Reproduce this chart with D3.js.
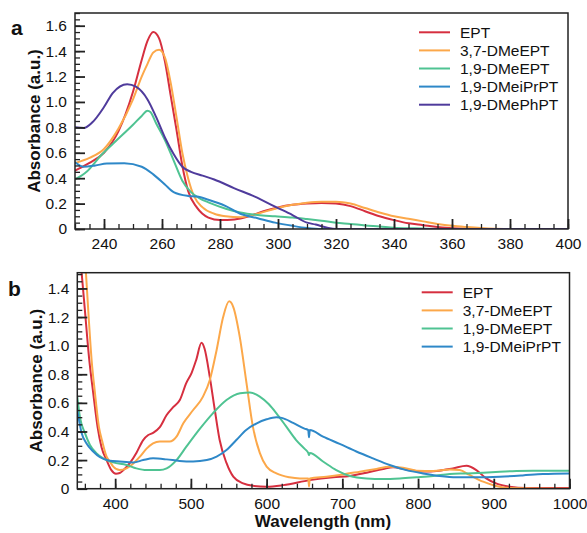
<!DOCTYPE html>
<html>
<head>
<meta charset="utf-8">
<script src="https://cdn.jsdelivr.net/npm/d3@7"></script>
<style>
	body { margin: 0; background: #fff; }
	svg text { font-family: "Liberation Sans", Arial, sans-serif; fill: #111; }
</style>
</head>
<body>
<div id="chart"></div>
<script>
// Panel a: computed spectra, [wavelength nm, absorbance]
const aEPT = [[230,0.46],[235,0.52],[240,0.60],[245,0.77],[250,1.08],[253,1.33],[255,1.48],[257,1.55],[259,1.50],[261,1.32],[263,1.05],[265,0.78],[267,0.50],[269,0.30],[272,0.17],[276,0.09],[280,0.07],[285,0.075],[290,0.10],[295,0.14],[300,0.17],[305,0.19],[310,0.20],[315,0.205],[320,0.20],[325,0.18],[330,0.14],[335,0.10],[340,0.07],[345,0.045],[350,0.03],[355,0.015],[360,0.005],[370,0],[400,0]];
const a37DMeEPT = [[230,0.52],[235,0.56],[240,0.63],[245,0.79],[250,1.02],[253,1.20],[255,1.30],[257,1.39],[259,1.41],[261,1.35],[263,1.15],[265,0.88],[267,0.60],[269,0.40],[271,0.26],[274,0.17],[278,0.12],[282,0.10],[287,0.092],[293,0.12],[299,0.16],[305,0.19],[310,0.207],[315,0.215],[320,0.215],[325,0.20],[330,0.165],[335,0.13],[340,0.10],[345,0.08],[350,0.06],[355,0.04],[360,0.025],[365,0.015],[370,0.007],[378,0],[400,0]];
const a19DMeEPT = [[230,0.39],[234,0.45],[239,0.58],[244,0.69],[250,0.82],[253,0.89],[255,0.93],[256,0.92],[258,0.83],[261,0.70],[264,0.54],[267,0.38],[270,0.29],[273,0.24],[276,0.21],[282,0.16],[287,0.13],[293,0.11],[299,0.10],[305,0.09],[310,0.078],[315,0.065],[320,0.05],[325,0.04],[330,0.028],[335,0.02],[340,0.01],[347,0.005],[355,0],[400,0]];
const a19DMeiPrPT = [[230,0.525],[233,0.49],[237,0.50],[241,0.515],[247,0.517],[253,0.49],[257,0.43],[261,0.35],[264,0.29],[269,0.26],[272,0.255],[276,0.23],[282,0.18],[287,0.12],[293,0.085],[299,0.05],[305,0.025],[310,0.008],[315,0],[400,0]];
const a19DMePhPT = [[230,0.80],[233,0.795],[236,0.84],[240,0.96],[243,1.07],[248,1.14],[251,1.12],[255,1.02],[258,0.88],[261,0.72],[264,0.59],[267,0.49],[270,0.45],[274,0.42],[278,0.39],[285,0.32],[292,0.255],[299,0.176],[305,0.11],[310,0.05],[313,0.035],[317,0.01],[320,0],[400,0]];

// Panel b: measured spectra
const bEPT = [[350,1.85],[355.7,1.51],[360,1.25],[365.8,0.90],[371,0.67],[376.8,0.43],[382,0.29],[388.7,0.20],[395,0.13],[401,0.105],[406,0.11],[411,0.13],[419.5,0.18],[428,0.25],[437,0.34],[443.7,0.375],[450,0.39],[459,0.43],[468,0.515],[476.6,0.57],[485.4,0.62],[494,0.74],[501,0.81],[507,0.90],[514,1.02],[518,0.98],[525,0.78],[531.6,0.55],[538,0.34],[547,0.18],[556,0.084],[569,0.037],[582,0.02],[600,0.014],[622,0.025],[657,0.06],[688,0.08],[710,0.089],[732,0.112],[754,0.138],[767,0.15],[784,0.135],[806,0.12],[828,0.126],[846,0.142],[864,0.16],[877,0.13],[890,0.072],[903,0.037],[921,0.014],[943,0.005],[1000,0.005]];
const b37DMeEPT = [[350,2.2],[361.4,1.51],[365,1.2],[368.9,0.90],[373.3,0.67],[378.6,0.43],[383,0.33],[388.7,0.224],[393,0.19],[397.5,0.154],[406,0.13],[415,0.142],[424,0.177],[432.7,0.224],[441.5,0.28],[450,0.317],[459,0.33],[472,0.33],[481,0.364],[490,0.457],[503,0.55],[516,0.644],[525,0.76],[534,0.97],[542.6,1.20],[550.5,1.31],[556,1.27],[564.6,1.06],[573.4,0.74],[582,0.43],[591,0.25],[600,0.154],[613,0.107],[630,0.08],[644,0.072],[655,0.072],[656,0.015],[657,0.072],[679,0.084],[701,0.10],[723,0.119],[745,0.138],[762,0.154],[780,0.147],[798,0.126],[820,0.124],[842,0.135],[855,0.13],[868,0.096],[886,0.049],[903,0.019],[921,0.005],[1000,0]];
const b19DMeEPT = [[350,0.64],[353.5,0.50],[360,0.39],[366.7,0.306],[375.5,0.247],[384.3,0.212],[397.5,0.184],[415,0.166],[428,0.142],[441.5,0.13],[459,0.13],[468,0.142],[481,0.20],[494,0.294],[512,0.42],[529,0.527],[547,0.62],[565,0.667],[578,0.672],[591,0.644],[603,0.59],[613,0.527],[626,0.434],[639,0.34],[650,0.28],[655,0.25],[656,0.235],[657,0.25],[674.5,0.19],[692,0.13],[710,0.089],[732,0.072],[754,0.068],[776,0.072],[798,0.08],[820,0.089],[842,0.103],[864,0.107],[886,0.112],[908,0.119],[930,0.124],[952,0.126],[1000,0.126]];
const b19DMeiPrPT = [[350,0.55],[355.7,0.39],[362,0.317],[371,0.26],[380,0.22],[393,0.196],[406,0.19],[424,0.184],[437,0.20],[450,0.212],[468,0.205],[485,0.194],[503,0.19],[521,0.20],[534,0.224],[547,0.27],[560,0.34],[573,0.41],[587,0.457],[600,0.485],[613,0.50],[620,0.495],[635,0.46],[650,0.42],[655,0.41],[656,0.36],[657,0.41],[674.5,0.364],[696.5,0.313],[718.5,0.26],[740.5,0.212],[762.5,0.166],[784.5,0.13],[806.5,0.107],[828.5,0.089],[850.5,0.08],[877,0.08],[908,0.084],[938,0.093],[965,0.103],[1000,0.107]];

const seriesNamesA = ['EPT', '3,7-DMeEPT', '1,9-DMeEPT', '1,9-DMeiPrPT', '1,9-DMePhPT'];
const seriesNamesB = ['EPT', '3,7-DMeEPT', '1,9-DMeEPT', '1,9-DMeiPrPT'];
const colours = ['#d62f3f', '#fca84a', '#4fc392', '#2e88c8', '#4f3b9c'];

const xTicksA = [240, 260, 280, 300, 320, 340, 360, 380, 400];
const yTicksA = [0, 0.2, 0.4, 0.6, 0.8, 1.0, 1.2, 1.4, 1.6];
const xTicksB = [400, 500, 600, 700, 800, 900, 1000];
const yTicksB = [0, 0.2, 0.4, 0.6, 0.8, 1.0, 1.2, 1.4];

const width = 587;
const height = 533;

const svg = d3.select('#chart')
	.append('svg')
	.attr('width', width)
	.attr('height', height);

// Draws one panel: frame, inward ticks, clipped spectra and legend
function drawPanel(opts) {
	const x = d3.scaleLinear().domain(opts.xDomain).range([opts.left, opts.right]);
	const y = d3.scaleLinear().domain(opts.yDomain).range([opts.bottom, opts.top]);
	const g = svg.append('g');

	g.append('clipPath')
		.attr('id', opts.id + '-clip')
		.append('rect')
		.attr('x', opts.left)
		.attr('y', opts.top)
		.attr('width', opts.right - opts.left)
		.attr('height', opts.bottom - opts.top);

	const line = d3.line()
		.x((d) => x(d[0]))
		.y((d) => y(d[1]))
		.curve(d3.curveMonotoneX);

	g.append('g')
		.attr('clip-path', `url(#${opts.id}-clip)`)
		.selectAll('path')
		.data(opts.series)
		.join('path')
		.attr('d', (d) => line(d))
		.attr('fill', 'none')
		.attr('stroke', (d, i) => colours[i])
		.attr('stroke-width', 2)
		.attr('stroke-linejoin', 'round');

	// minor ticks first, majors drawn over them
	const step = opts.xMinorStep;
	const xMinor = d3.range(Math.ceil(opts.xDomain[0] / step) * step, opts.xDomain[1] + 0.01, step);
	const yMinor = d3.range(0, opts.yDomain[1] + 0.001, 0.05);

	const xAxisMinor = d3.axisBottom(x).tickValues(xMinor).tickSize(-5).tickFormat('');
	const yAxisMinor = d3.axisLeft(y).tickValues(yMinor).tickSize(-5).tickFormat('');
	g.append('g').attr('transform', `translate(0,${opts.bottom})`).call(xAxisMinor);
	g.append('g').attr('transform', `translate(${opts.left},0)`).call(yAxisMinor);

	const xAxis = d3.axisBottom(x).tickValues(opts.xTicks).tickSize(-10).tickPadding(9)
		.tickFormat(d3.format('d'));
	const yAxis = d3.axisLeft(y).tickValues(opts.yTicks).tickSize(-10).tickPadding(8)
		.tickFormat((d) => (d === 0 ? '0' : d3.format('.1f')(d)));
	g.append('g').attr('class', 'major').attr('transform', `translate(0,${opts.bottom})`).call(xAxis);
	g.append('g').attr('class', 'major').attr('transform', `translate(${opts.left},0)`).call(yAxis);

	g.selectAll('.domain').remove();
	g.selectAll('.tick line').attr('stroke', '#222').attr('stroke-width', 1.3);
	g.selectAll('.major .tick line').attr('stroke-width', 1.8);
	g.selectAll('.tick text')
		.style('font-size', '15.5px')
		.attr('fill', '#111');

	g.append('rect')
		.attr('x', opts.left)
		.attr('y', opts.top)
		.attr('width', opts.right - opts.left)
		.attr('height', opts.bottom - opts.top)
		.attr('fill', 'none')
		.attr('stroke', '#222')
		.attr('stroke-width', 1.5);

	// Legend
	const legend = g.append('g')
		.selectAll('g')
		.data(opts.names)
		.join('g')
		.attr('transform', (d, i) => `translate(${opts.legendX},${opts.legendY + i * 18.1})`);
	legend.append('line')
		.attr('x1', 0)
		.attr('x2', 31)
		.attr('stroke', (d, i) => colours[i])
		.attr('stroke-width', 2);
	legend.append('text')
		.attr('x', 41)
		.attr('dy', '0.36em')
		.style('font-size', '15.5px')
		.text((d) => d);

	// Panel letter and y label
	g.append('text')
		.attr('x', opts.letterX)
		.attr('y', opts.letterY)
		.style('font-size', '21px')
		.style('font-weight', 'bold')
		.text(opts.letter);

	g.append('text')
		.attr('transform', `translate(${opts.yLabelX},${(opts.top + opts.bottom) / 2}) rotate(-90)`)
		.attr('text-anchor', 'middle')
		.style('font-size', '17px')
		.style('font-weight', 'bold')
		.text('Absorbance (a.u.)');
}

drawPanel({
	id: 'pa',
	letter: 'a',
	letterX: 11,
	letterY: 35,
	left: 75,
	right: 568,
	top: 13,
	bottom: 229,
	xDomain: [230, 400],
	yDomain: [0, 1.7],
	xMinorStep: 5,
	xTicks: xTicksA,
	yTicks: yTicksA,
	series: [aEPT, a37DMeEPT, a19DMeEPT, a19DMeiPrPT, a19DMePhPT],
	names: seriesNamesA,
	legendX: 419,
	legendY: 32.3,
	yLabelX: 40,
});

drawPanel({
	id: 'pb',
	letter: 'b',
	letterX: 8,
	letterY: 296,
	left: 77.3,
	right: 569.5,
	top: 272.7,
	bottom: 488.7,
	xDomain: [350, 1000],
	yDomain: [0, 1.51],
	xMinorStep: 20,
	xTicks: xTicksB,
	yTicks: yTicksB,
	series: [bEPT, b37DMeEPT, b19DMeEPT, b19DMeiPrPT],
	names: seriesNamesB,
	legendX: 421.7,
	legendY: 292.3,
	yLabelX: 42,
});

svg.append('text')
	.attr('x', 323)
	.attr('y', 527)
	.attr('text-anchor', 'middle')
	.style('font-size', '17px')
	.style('font-weight', 'bold')
	.text('Wavelength (nm)');
</script>
</body>
</html>
